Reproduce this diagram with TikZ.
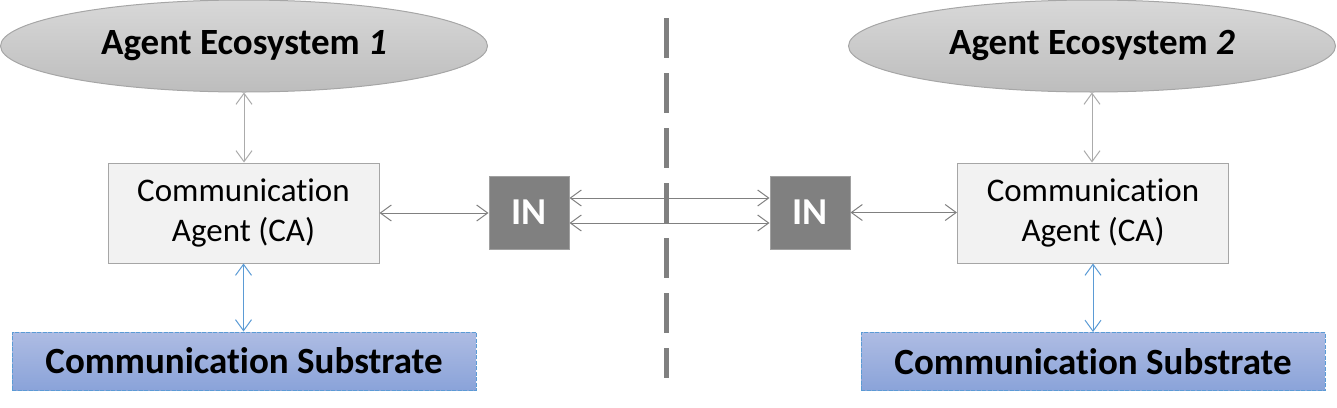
\documentclass[tikz,border=0pt]{standalone}
\usepackage{fontspec}
\setmainfont{Carlito}[RawFeature=-liga]
\usetikzlibrary{arrows.meta,shapes.geometric}
\definecolor{ecoTop}{HTML}{D8D8D8}
\definecolor{ecoBot}{HTML}{BDBDBD}
\definecolor{ecoLine}{HTML}{A6A6A6}
\definecolor{caFill}{HTML}{F2F2F2}
\definecolor{caLine}{HTML}{A6A6A6}
\definecolor{inFill}{HTML}{808080}
\definecolor{inLine}{HTML}{A0A0A0}
\definecolor{subTop}{HTML}{AEBCE3}
\definecolor{subBot}{HTML}{8AA3D9}
\definecolor{subLine}{HTML}{5B9BD5}
\definecolor{lightArrow}{HTML}{ABABAB}
\definecolor{darkArrow}{HTML}{808080}
\definecolor{blueArrow}{HTML}{5B9BD5}
\definecolor{divider}{HTML}{808080}
\begin{document}
\begin{tikzpicture}[x=1pt,y=-1pt,
  eco/.style={ellipse, draw=ecoLine, line width=1pt, top color=ecoTop, bottom color=ecoBot,
    minimum width=487pt, minimum height=92pt, inner sep=0pt,
    font=\fontsize{37}{44}\selectfont\bfseries},
  cabox/.style={rectangle, draw=caLine, fill=caFill, line width=1pt,
    minimum width=271pt, minimum height=100pt, inner sep=0pt, align=center,
    font=\fontsize{33}{40}\selectfont},
  inbox/.style={rectangle, draw=inLine, fill=inFill, line width=1pt,
    minimum width=80pt, minimum height=73pt, inner sep=0pt, text=white,
    font=\fontsize{38}{44}\selectfont\bfseries},
  subbox/.style={rectangle, draw=subLine, line width=1pt, dash pattern=on 4pt off 1.5pt,
    top color=subTop, bottom color=subBot,
    minimum width=464pt, minimum height=58pt, inner sep=0pt,
    font=\fontsize{37}{44}\selectfont\bfseries},
  link/.style={{Straight Barb[length=11pt,width=16pt]}-{Straight Barb[length=11pt,width=16pt]},
    line width=1pt},
]
\useasboundingbox (0,0) rectangle (1337,407);

% separator between the two ecosystems
\coordinate (divtop) at (666,18);
\coordinate (divbot) at (666,378);
\draw[divider, line width=5pt, dash pattern=on 40pt off 15pt] (divtop) -- (divbot);

% left ecosystem
\node[eco]    (eco1) at (244,46)    {Agent Ecosystem \textit{1}};
\node[cabox]  (ca1)  at (243.5,213) {Communication\\Agent (CA)};
\node[subbox] (sub1) at (244,361)   {Communication Substrate};
\node[inbox]  (in1)  at (529,212.5) {IN};

% right ecosystem
\node[eco]    (eco2) at (1092,46)   {Agent Ecosystem \textit{2}};
\node[cabox]  (ca2)  at (1093,213)  {Communication\\Agent (CA)};
\node[subbox] (sub2) at (1093,361.5) {Communication Substrate};
\node[inbox]  (in2)  at (810,212.5) {IN};

% vertical links
\draw[link, lightArrow] (eco1.south) -- (eco1.south |- ca1.north);
\draw[link, lightArrow] (eco2.south) -- (eco2.south |- ca2.north);
\draw[link, blueArrow] (ca1.south) -- (ca1.south |- sub1.north);
\draw[link, blueArrow] (ca2.south) -- (ca2.south |- sub2.north);

% horizontal links
\draw[link, darkArrow] (ca1.east) -- (ca1.east -| in1.west);
\draw[link, darkArrow] (in2.east) -- (in2.east -| ca2.west);
\draw[link, darkArrow] ([yshift=14.5pt]in1.east) -- ([yshift=14.5pt]in2.west);
\draw[link, darkArrow] ([yshift=-10.5pt]in1.east) -- ([yshift=-10.5pt]in2.west);
\end{tikzpicture}
\end{document}
